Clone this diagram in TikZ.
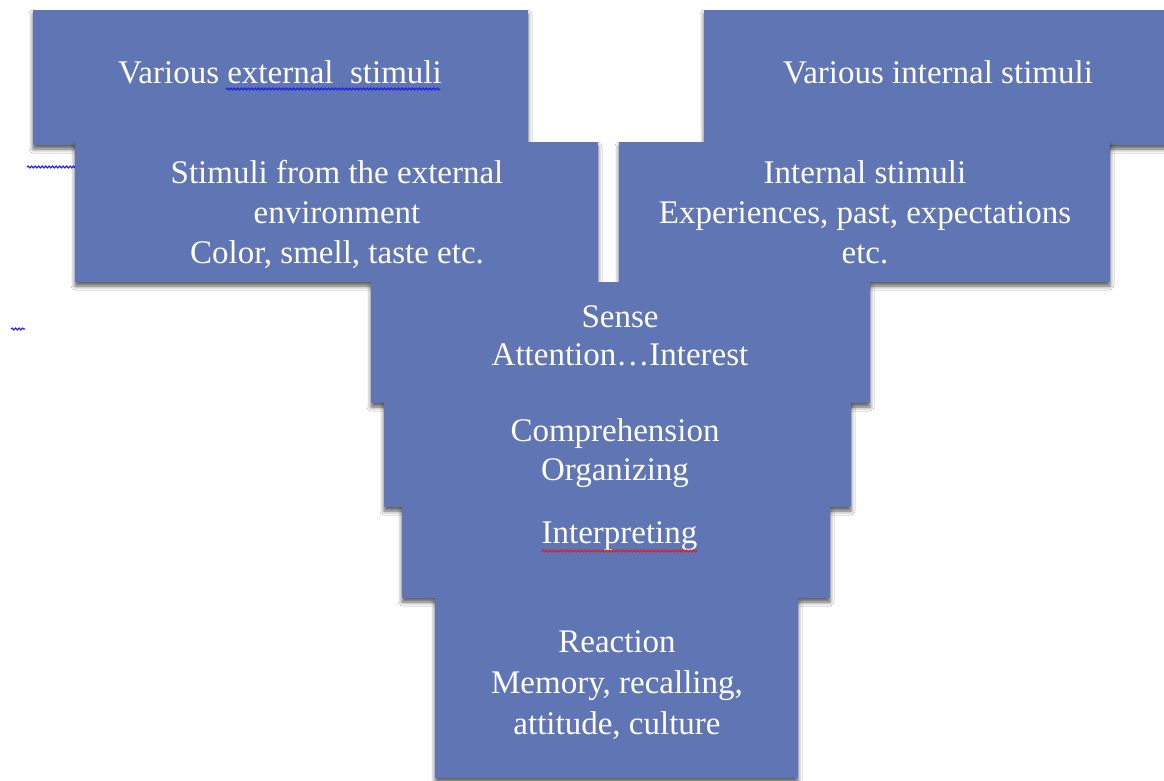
\documentclass[tikz,border=0pt]{standalone}
\usepackage{fontspec}
\setmainfont{Liberation Serif}
\usetikzlibrary{shadows.blur,decorations.pathmorphing}
\definecolor{boxblue}{RGB}{96,117,179}
\definecolor{spellblue}{RGB}{30,30,230}
\definecolor{spellred}{RGB}{220,30,40}
\tikzset{
  stage/.style={fill=boxblue, draw=none, inner sep=0pt, outer sep=0pt, anchor=north west,
    blur shadow={shadow xshift=0pt, shadow yshift=-4pt, shadow blur radius=4pt, shadow opacity=65}},
  lbl/.style={text=white, align=center, anchor=base, inner sep=0pt, font=\fontsize{33}{40}\selectfont},
  squig/.style={decorate, decoration={snake, amplitude=1pt, segment length=3.5pt}, line width=1.1pt},
}
\begin{document}
\begin{tikzpicture}[x=1pt,y=-1pt]
\useasboundingbox (0,0) rectangle (1164,780);
\clip (0,0) rectangle (1164,780);
\fill[white] (0,0) rectangle (1164,780);

% stray spell-check marks on the page
\coordinate (s1a) at (27,167); \coordinate (s1b) at (80,167);
\draw[spellblue,squig] (s1a) -- (s1b);
\coordinate (s2a) at (11,329); \coordinate (s2b) at (25,329);
\draw[spellblue,squig] (s2a) -- (s2b);

% top-left box
\node[stage, minimum width=495pt, minimum height=135pt] (extA) at (33,10) {};
\node[lbl] (extAt) at (280,83) {Various external\ \ stimuli};
\coordinate (s3a) at (226,89); \coordinate (s3b) at (440,89);
\draw[spellblue,squig] (s3a) -- (s3b);

% second-left box
\node[stage, minimum width=523pt, minimum height=140pt] (extB) at (75,142) {};
\node[lbl] (extBt) at (337,263) {Stimuli from the external\\environment\\Color, smell, taste etc.};

% top-right box
\node[stage, minimum width=470pt, minimum height=135pt] (intC) at (704,10) {};
\node[lbl] (intCt) at (938,83) {Various internal stimuli};

% second-right box
\node[stage, minimum width=491pt, minimum height=140pt] (intD) at (619,142) {};
\node[lbl] (intDt) at (865,263) {Internal stimuli\\Experiences, past, expectations\\etc.};

% sense
\node[stage, minimum width=499pt, minimum height=121pt] (sense) at (371,282) {};
\node[lbl, font=\fontsize{33}{38}\selectfont] (senset) at (620,365) {Sense\\Attention…Interest};

% comprehension
\node[stage, minimum width=467pt, minimum height=105pt] (comp) at (384,402) {};
\node[lbl, font=\fontsize{33}{39}\selectfont] (compt) at (615,480) {Comprehension\\Organizing};

% interpreting
\node[stage, minimum width=428pt, minimum height=91pt] (interp) at (402,507) {};
\node[lbl] (interpt) at (619.5,543) {Interpreting};
\coordinate (s4a) at (542,551); \coordinate (s4b) at (697,551);
\draw[spellred,squig] (s4a) -- (s4b);

% reaction
\node[stage, minimum width=363pt, minimum height=180pt] (react) at (435,598) {};
\node[lbl, font=\fontsize{33}{41}\selectfont] (reactt) at (617,734) {Reaction\\Memory, recalling,\\attitude, culture};
\end{tikzpicture}
\end{document}
